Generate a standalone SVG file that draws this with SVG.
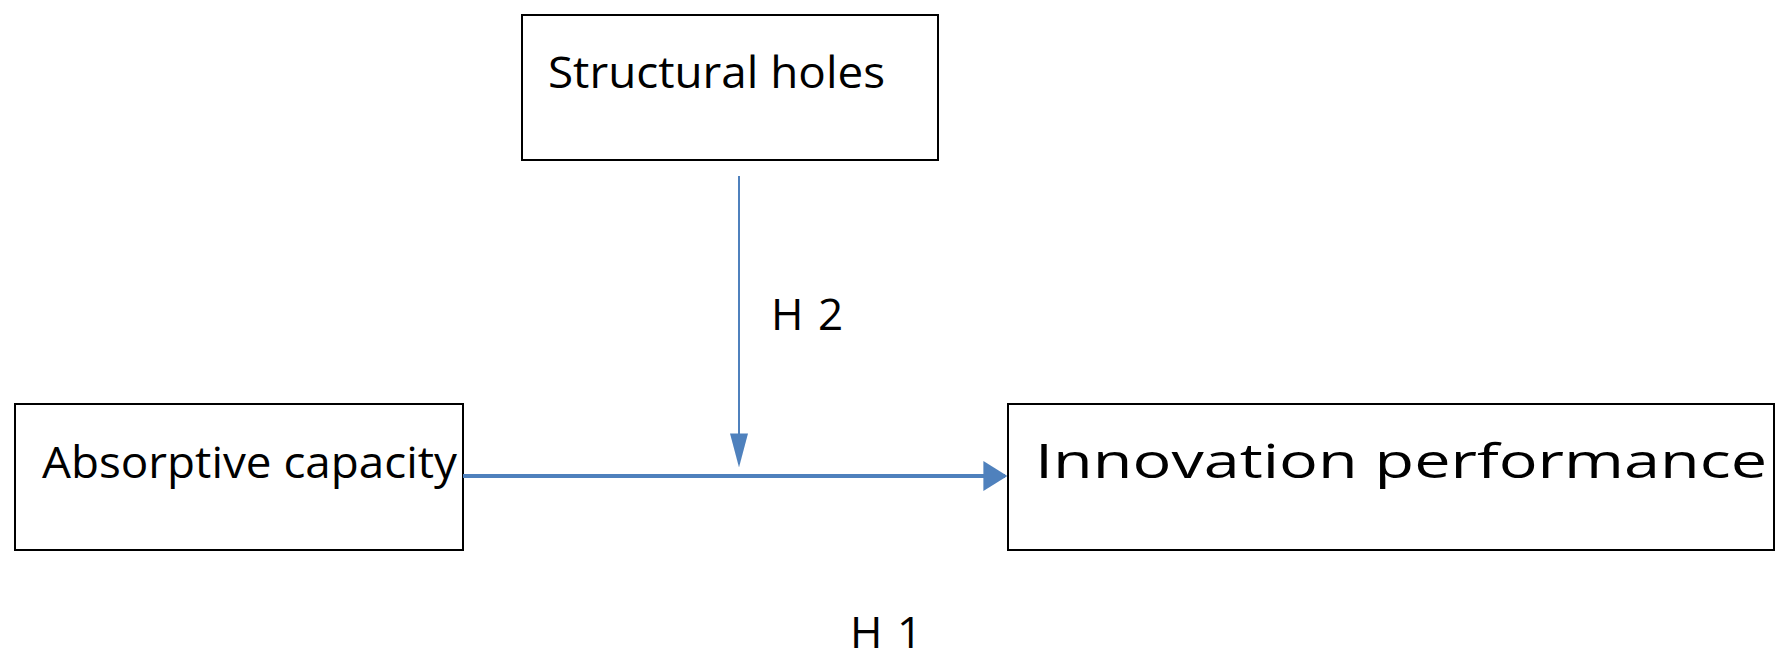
<svg xmlns="http://www.w3.org/2000/svg" width="1784" height="663" viewBox="0 0 1784 663">
<style>
.box{fill:#fff;stroke:#000;stroke-width:2}
.t{font-family:"Open Sans","Liberation Sans",sans-serif;font-size:44px;fill:#000}
.c{stroke:#4f81bd;fill:none}
</style>
<defs>
<marker id="a" viewBox="0 0 10 10" refX="9" refY="5" markerWidth="34" markerHeight="18" orient="auto" markerUnits="userSpaceOnUse" preserveAspectRatio="none"><path d="M0,0 L10,5 L0,10 z" fill="#4f81bd"/></marker>
<marker id="b" viewBox="0 0 10 10" refX="9" refY="5" markerWidth="24" markerHeight="30" orient="auto" markerUnits="userSpaceOnUse" preserveAspectRatio="none"><path d="M0,0 L10,5 L0,10 z" fill="#4f81bd"/></marker>
</defs>
<rect width="1784" height="663" fill="#fff"/>
<g id="n1"><rect class="box" x="522" y="15" width="416" height="145"/><text class="t" x="548" y="88" textLength="337" lengthAdjust="spacingAndGlyphs">Structural holes</text></g>
<g id="n2"><rect class="box" x="15" y="404" width="448" height="146"/><text class="t" x="42" y="478" textLength="415" lengthAdjust="spacingAndGlyphs">Absorptive capacity</text></g>
<g id="n3"><rect class="box" x="1008" y="404" width="766" height="146"/><text class="t" x="1035" y="478" style="font-size:48px" textLength="732" lengthAdjust="spacingAndGlyphs">Innovation performance</text></g>
<g id="connectors">
<line class="c" x1="739" y1="176" x2="739" y2="464" stroke-width="2" marker-end="url(#a)"/>
<line class="c" x1="463" y1="476" x2="1005" y2="476" stroke-width="4" marker-end="url(#b)"/>
<text class="t" x="771" y="330">H<tspan x="818">2</tspan></text>
<text class="t" x="850" y="648">H<tspan x="897">1</tspan></text>
</g>
</svg>
